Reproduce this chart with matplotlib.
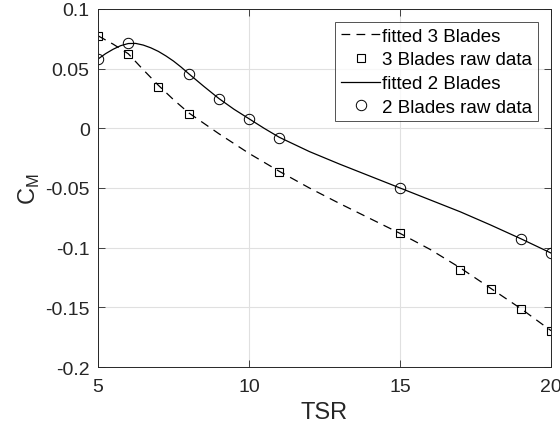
import matplotlib
matplotlib.use("Agg")
import matplotlib.pyplot as plt

plt.rcParams["font.family"] = ["Liberation Sans", "DejaVu Sans"]
plt.rcParams["axes.unicode_minus"] = False

# raw data
tsr_3 = [5, 6, 7, 8, 11, 15, 17, 18, 19, 20]
cm_3 = [0.0775, 0.0623, 0.0346, 0.0119, -0.0366, -0.0877, -0.1190, -0.1347, -0.1514, -0.1700]

tsr_2 = [5, 6, 8, 9, 10, 11, 15, 19, 20]
cm_2 = [0.0580, 0.0712, 0.0455, 0.0246, 0.0078, -0.0080, -0.0500, -0.0928, -0.1045]

# fitted curves
fit_x3 = [5, 5.5, 6, 6.5, 7, 7.5, 8, 9, 10, 11, 12, 13, 14, 15, 16, 17, 18, 19, 20]
fit_y3 = [0.0775, 0.0705, 0.0625, 0.0490, 0.0360, 0.0240, 0.0130, -0.0045, -0.0210,
          -0.0360, -0.0500, -0.0630, -0.0755, -0.0880, -0.1015, -0.1170, -0.1340,
          -0.1510, -0.1695]

fit_x2 = [5, 5.25, 5.5, 5.75, 6, 6.25, 6.5, 6.75, 7, 7.25, 7.5, 7.75, 8, 8.5, 9,
          9.5, 10, 10.5, 11, 12, 13, 14, 15, 16, 17, 18, 19, 20]
fit_y2 = [0.0580, 0.0625, 0.0662, 0.0692, 0.0710, 0.0711, 0.0697, 0.0674, 0.0644,
          0.0606, 0.0563, 0.0513, 0.0458, 0.0352, 0.0250, 0.0160, 0.0080, 0.0000,
          -0.0075, -0.0195, -0.0300, -0.0400, -0.0500, -0.0600, -0.0700, -0.0810,
          -0.0925, -0.1045]

xticks = [5, 10, 15, 20]
yticks = [-0.2, -0.15, -0.1, -0.05, 0, 0.05, 0.1]
ytick_labels = ["-0.2", "-0.15", "-0.1", "-0.05", "0", "0.05", "0.1"]

fig = plt.figure(figsize=(5.6, 4.31), dpi=100)
ax = fig.add_axes([0.175, 0.146, 0.809, 0.831])

ax.plot(fit_x3, fit_y3, "k--", lw=0.9, dashes=(7, 5), label="fitted 3 Blades")
ax.plot(tsr_3, cm_3, "ks", mfc="none", ms=5.5, mew=0.8, label="3 Blades raw data")
ax.plot(fit_x2, fit_y2, "k-", lw=0.9, label="fitted 2 Blades")
ax.plot(tsr_2, cm_2, "ko", mfc="none", ms=7.5, mew=0.7, label="2 Blades raw data")

ax.set_xlim(5, 20)
ax.set_ylim(-0.2, 0.1)
ax.set_xticks(xticks)
ax.set_xticklabels([str(t) for t in xticks])
ax.set_yticks(yticks)
ax.set_yticklabels(ytick_labels)
ax.tick_params(direction="in", top=True, right=True, labelsize=14,
               colors="0.15", length=5, width=0.6)
ax.tick_params(axis="x", pad=8)
ax.tick_params(axis="y", pad=6)
for s in ax.spines.values():
    s.set_color("0.15")
    s.set_linewidth(0.7)
ax.grid(True, color="0.88", lw=0.8)
ax.set_axisbelow(True)

ax.set_xlabel("TSR", fontsize=17, color="0.15", labelpad=4)
ax.set_ylabel(r"C$_{\mathregular{M}}$", fontsize=17, color="0.15", labelpad=2)

leg = ax.legend(loc="upper right", fontsize=13.5, frameon=True, fancybox=False,
                edgecolor="0.15", handlelength=2.1, handletextpad=0.1,
                borderpad=0.3, labelspacing=0.35, borderaxespad=0.7)
leg.get_frame().set_linewidth(0.7)

fig.savefig("out.png", dpi=100)
